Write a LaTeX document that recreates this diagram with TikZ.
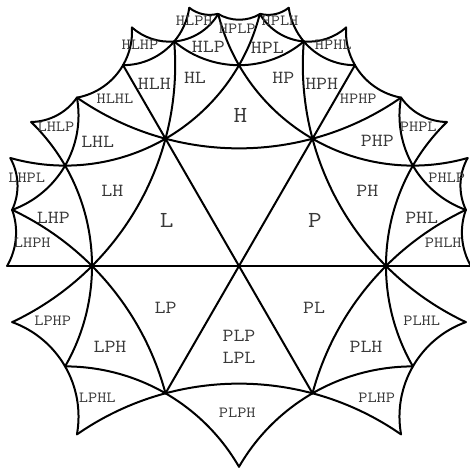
\documentclass[tikz,border=0pt]{standalone}
\usepackage{fontspec}
\usepackage{tikz}

% disk radius (pt)
\def\R{284}

% geodesic of the Poincare disk between two named points
\newcommand\geo[2]{%
  \path (#1); \pgfgetlastxy{\gax}{\gay}%
  \path (#2); \pgfgetlastxy{\gbx}{\gby}%
  \pgfmathsetmacro\gpx{(\gax)/\R}%
  \pgfmathsetmacro\gpy{(\gay)/\R}%
  \pgfmathsetmacro\gqx{(\gbx)/\R}%
  \pgfmathsetmacro\gqy{(\gby)/\R}%
  \pgfmathsetmacro\gdet{(\gpx)*(\gqy)-(\gpy)*(\gqx)}%
  \pgfmathtruncatemacro\gstraight{abs(\gdet)<0.002}%
  \ifnum\gstraight=1
    \draw[geoline] (#1) -- (#2);%
  \else
    \pgfmathsetmacro\gkp{(1+(\gpx)*(\gpx)+(\gpy)*(\gpy))/2}%
    \pgfmathsetmacro\gkq{(1+(\gqx)*(\gqx)+(\gqy)*(\gqy))/2}%
    \pgfmathsetmacro\gcx{((\gkp)*(\gqy)-(\gkq)*(\gpy))/(\gdet)}%
    \pgfmathsetmacro\gcy{((\gpx)*(\gkq)-(\gqx)*(\gkp))/(\gdet)}%
    \pgfmathsetmacro\grr{\R*sqrt((\gcx)*(\gcx)+(\gcy)*(\gcy)-1)}%
    \pgfmathsetmacro\gsa{atan2((\gpy)-(\gcy),(\gpx)-(\gcx))}%
    \pgfmathsetmacro\gea{atan2((\gqy)-(\gcy),(\gqx)-(\gcx))}%
    \pgfmathsetmacro\gea{(\gea)-(\gsa)>180 ? (\gea)-360 : ((\gsa)-(\gea)>180 ? (\gea)+360 : (\gea))}%
    \draw[geoline] (#1) arc[start angle=\gsa, end angle=\gea, radius=\grr pt];%
  \fi}

\tikzset{
  geoline/.style={line width=2pt, line cap=round, line join=round},
  word/.style={text=black!78, inner sep=0pt, xscale=1.15},
  big/.style={word, font=\ttfamily\fontsize{23}{23}\selectfont},
  mid/.style={word, font=\ttfamily\fontsize{18.5}{22.6}\selectfont},
  small/.style={word, font=\ttfamily\fontsize{15.5}{15}\selectfont}
}

\begin{document}
\begin{tikzpicture}[x=1pt, y=1pt]
  \useasboundingbox (-239,-205) rectangle (230,266);

  % vertices
  \coordinate (O) at (0,0);
  \foreach \a in {0,60,...,300} \coordinate (v\a) at (\a:147.0);
  \foreach \a in {30,90,...,330} \coordinate (t\a) at (\a:200.8);
  \foreach \a/\n in {13.9/14, 46.1/46, 73.9/74, 106.1/106, 133.9/134,
                     166.1/166, 193.9/194, 226.1/226, 313.9/314, 346.1/346}
    \coordinate (a\n) at (\a:233.7);
  \foreach \a in {0,60,120,180} \coordinate (o\a) at (\a:231.9);
  \foreach \a/\n in {25.285/25, 34.715/35, 85.285/85, 94.715/95,
                     145.285/145, 154.715/155}
    \coordinate (c\n) at (\a:252.9);
  \coordinate (d66) at (65.82:261.5);
  \coordinate (d114) at (114.18:261.5);
  \coordinate (d79) at (79.10:263.0);
  \coordinate (d101) at (100.90:263.0);

  % edges of the tiles
  \foreach \p/\q in {O/v0, O/v60, O/v120, O/v180, O/v240, O/v300,
      v0/v60, v60/v120, v120/v180, v180/v240, v240/v300, v300/v0,
      t90/v120, t90/v60, t150/v120, t150/v180, t150/a134, v120/a134,
      t150/c145, c145/a134, t150/a166, a166/v180, o180/a166, o180/v180,
      t150/c155, a166/c155, t90/a106, v120/a106, o120/v120, o120/a106,
      o120/a134, o120/d114, d114/a106, t90/c95, c95/a106, d101/c95,
      d101/a106, t90/a74, a74/v60, a74/c85, t90/c85, c95/c85,
      d79/a74, d79/c85, o60/a74, o60/v60, o60/d66, a74/d66,
      o60/a46, a46/v60, t30/v0, t30/v60, t30/a46, t30/c35, a46/c35,
      t30/a14, v0/a14, o0/v0, o0/a14, t30/c25, c25/a14,
      t210/v240, t210/v180, t210/a226, v240/a226, t210/a194, a194/v180,
      t330/v0, t330/v300, t330/a346, v0/a346, t330/a314, a314/v300,
      t270/v240, t270/v300}
    \geo{\p}{\q};

  % tile words
  \node[big] (nL) at (-72.3,45.3) {L};
  \node[big] (nH) at (1.5,150.5) {H};
  \node[big] (nP) at (76,45.7) {P};

  \foreach \w/\x/\y in {LH/-126.7/75.3, LHL/-141.3/124.3, HLH/-84.7/181.7,
      HL/-44/188.3, HLP/-30.7/219.3, HPL/28.3/218.3, HP/44.3/188.3,
      HPH/82.7/181.7, PHP/138.3/125, PH/128.3/75.3, PHL/182.7/47.7,
      LHP/-185.7/48.3, LP/-73.3/-41.7, LPH/-129/-81.3, PL/75/-42.3,
      PLH/127/-81.3}
    \node[mid] (n\w) at (\x,\y) {\w};

  \foreach \w/\x/\y in {LHLP/-183/139.3, HLHL/-124/167, HLHP/-99/221.7,
      HLPH/-44.7/245.3, HPLP/-1.7/237.7, HPLH/41/245.3, HPHL/94.3/221,
      HPHP/119.3/167, PHPL/179.3/139.3, PHLP/207.7/88.3, PHLH/204.3/23.3,
      LHPL/-212.3/88.3, LHPH/-206.7/23.3, LPHP/-186.3/-54.7,
      LPHL/-141.7/-131.7, PLHL/182.7/-54.7, PLHP/137.7/-131.7,
      PLPH/-1.7/-146.7}
    \node[small] (n\w) at (\x,\y) {\w};

  \node[mid, align=center] (nPLP) at (0,-81) {PLP\\LPL};
\end{tikzpicture}
\end{document}
